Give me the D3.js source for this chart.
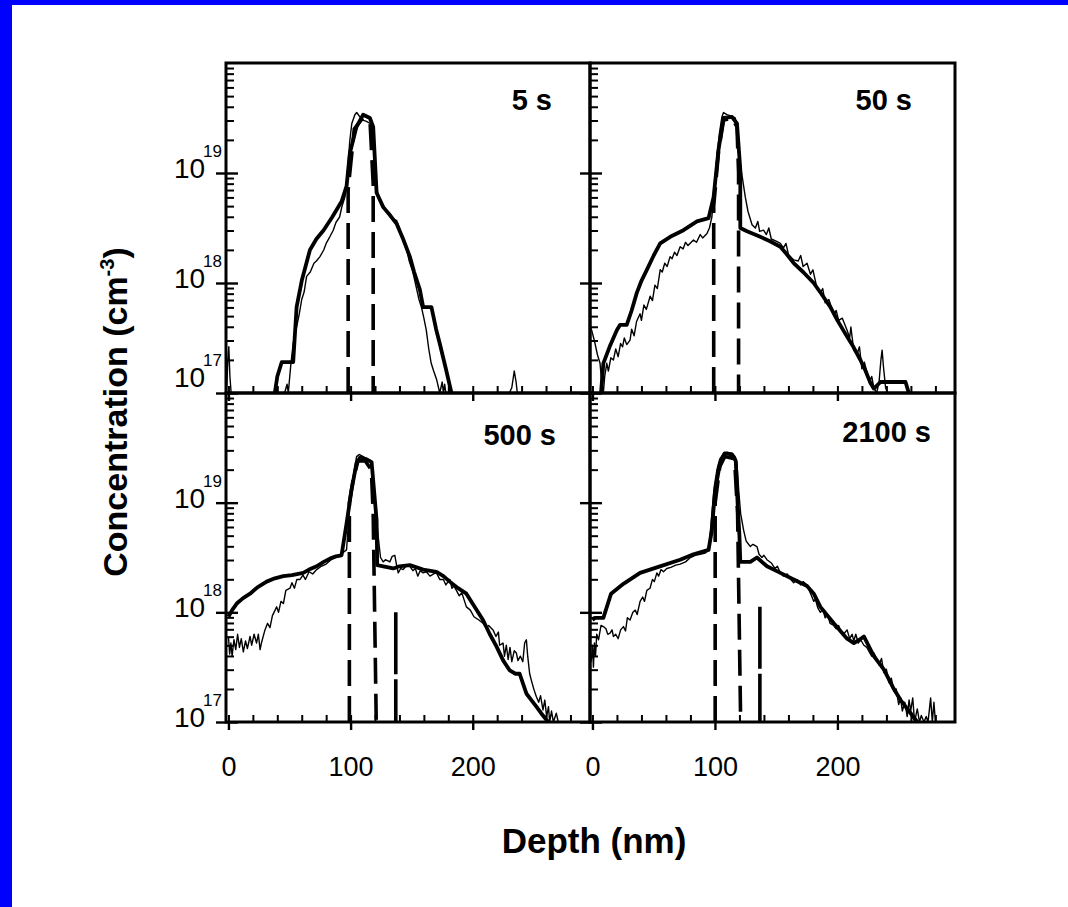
<!DOCTYPE html>
<html>
<head>
<meta charset="utf-8">
<script src="https://cdn.jsdelivr.net/npm/d3@7"></script>
<style>
  html, body { margin: 0; padding: 0; background: #fff; }
  svg { display: block; font-family: "Liberation Sans", Arial, Helvetica, sans-serif; color: #000; }
</style>
</head>
<body>
<svg id="chart" width="1068" height="907"></svg>
<script>
// ─── Data (depth in nm, concentration as log10 of cm^-3) ─────────────────────
const panelLabels = ['5 s', '50 s', '500 s', '2100 s'];
const xMinorTicks = [0, 20, 40, 60, 80, 100, 120, 140, 160, 180, 200, 220, 240, 260, 280];
const xMajorTicks = [0, 100, 200];
const yMajorExp   = [17, 18, 19];

// 5 s
const thick5 = [[38,17.0],[40,17.15],[43.6,17.28],[53,17.28],[55.8,17.78],[60,18.02],[66.7,18.3],[72,18.4],
  [77.9,18.48],[85,18.6],[92.6,18.74],[96.7,18.88],[99.4,19.18],[104.8,19.42],[110.3,19.53],[115.8,19.5],
  [118.5,19.42],[121.3,18.82],[126.7,18.69],[132,18.62],[137.6,18.54],[143,18.4],[148.5,18.24],[152,18.1],
  [156.7,17.94],[159.4,17.78],[166.2,17.78],[170,17.58],[173,17.45],[178,17.22],[182.6,17.0]];
const thin5 = [[-1.5,17],[-0.5,17.3],[0.3,17.42],[1.2,17.15],[2.2,17.0],[46,17.0],[48,17.08],[49,17.0],
  [51,17.25],[53,17.45],[55.8,17.6],[58,17.72],[60,17.85],[62,17.92],[64,18.06],[67,18.1],[70,18.18],[72,18.2],
  [74.9,18.24],[78,18.3],[80,18.36],[83,18.42],[85.8,18.48],[88,18.55],[91,18.6],[93,18.7],[95.3,18.78],
  [97,18.95],[99.4,19.3],[101,19.45],[103.5,19.53],[105,19.55],[107.6,19.51],[110,19.48],[113,19.47],
  [116,19.45],[118,19.35],[120,19.0],[121,18.88],[123,18.78],[127,18.7],[130,18.65],[133,18.62],[135,18.58],
  [137.6,18.57],[140,18.5],[143,18.4],[146,18.3],[148,18.2],[151,18.1],[154,17.95],[156,17.85],[158,17.78],
  [160,17.68],[162,17.57],[164,17.4],[166,17.27],[168,17.2],[170.5,17.12],[173,17.0],[175,17.1],[176,17.0],
  [177,17.08],[178,17.0],[230,17.0],[232,17.05],[234,17.2],[235.5,17.1],[236.5,17.0]];
const dash5 = [[98,17],[98,18.85],[103,19.4],[110,19.5],[116,19.45],[118.5,18.9],[118.5,17]];

// 50 s
const thick50 = [[7,17.0],[8.9,17.27],[14,17.42],[19.9,17.57],[22.6,17.62],[28,17.62],[32,17.75],[36.2,17.91],
  [40,18.02],[44.4,18.12],[50,18.25],[55.3,18.36],[63.5,18.42],[74.3,18.48],[85.3,18.56],[94.8,18.59],
  [98.9,18.78],[102.9,19.21],[107,19.5],[113.9,19.51],[118,19.45],[120.7,19.03],[120.7,18.5],[126.2,18.47],
  [137,18.42],[145,18.38],[153.4,18.33],[158,18.27],[164.3,18.18],[172,18.1],[180.6,18.0],[187,17.9],
  [194.3,17.78],[200,17.66],[208,17.51],[213,17.42],[218.8,17.3],[223,17.2],[227,17.09],[229.7,17.04],
  [235.2,17.1],[255.6,17.1],[258.3,17.0]];
const thin50 = [[-2,17.6],[-0.6,17.57],[1,17.5],[2.1,17.45],[4,17.35],[6.2,17.27],[7.5,17.1],[8.9,17.0],
  [10,17.15],[11.7,17.27],[13,17.2],[15,17.32],[17.1,17.3],[19,17.4],[21,17.33],[23,17.45],[24.6,17.42],
  [26,17.5],[28,17.44],[30.7,17.48],[32,17.58],[34,17.52],[36,17.65],[38.9,17.72],[40,17.66],[42,17.8],
  [44,17.76],[47.1,17.88],[49,17.84],[51,17.98],[53,17.95],[55.3,18.12],[57,18.1],[59,18.18],[61,18.15],
  [63.4,18.24],[65,18.22],[67,18.28],[69,18.25],[71.6,18.33],[74,18.31],[76,18.37],[78,18.34],[82.5,18.39],
  [85,18.37],[88,18.44],[90,18.41],[93.5,18.45],[95.5,18.5],[97.5,18.6],[99.5,18.85],[101.6,19.15],
  [103.5,19.35],[105.7,19.51],[107,19.55],[109.8,19.53],[113,19.52],[116.6,19.5],[118,19.4],[120.7,19.09],
  [122.5,18.95],[124.8,18.78],[127,18.65],[130.3,18.53],[133,18.5],[135,18.56],[136.5,18.47],[139.7,18.48],
  [142,18.44],[144,18.5],[146,18.4],[150,18.38],[153.4,18.36],[156,18.32],[158,18.36],[160,18.26],
  [164.3,18.21],[168,18.2],[170,18.25],[172,18.15],[175.2,18.18],[178,18.08],[180,18.12],[183,17.97],
  [186.1,17.91],[188,17.95],[190,17.82],[193,17.85],[197,17.72],[199,17.75],[201,17.66],[204,17.68],
  [207.9,17.57],[210,17.5],[211,17.6],[213.3,17.39],[216,17.35],[218,17.42],[220,17.22],[222,17.28],
  [224.3,17.18],[226,17.1],[228,17.15],[229.7,17.05],[232,17.0],[234,17.1],[235.5,17.3],[236.5,17.39],
  [237.5,17.25],[239.3,17.05],[241,17.0]];
const dash50 = [[99,17],[99,18.7],[103,19.2],[107,19.48],[114,19.5],[118,19.42],[119.3,19.0],[119.3,17]];

// 500 s
const thick500 = [[0,17.96],[3,18.02],[6.8,18.08],[12,18.13],[17.7,18.17],[24,18.23],[31.3,18.28],[38,18.31],
  [44.9,18.33],[52,18.34],[61.2,18.36],[66,18.39],[72.2,18.42],[78,18.46],[83.1,18.49],[88,18.51],[92.6,18.52],
  [96.7,18.81],[100.8,19.12],[104.9,19.36],[107.6,19.41],[112,19.4],[117.2,19.37],[121.3,18.84],[121.8,18.43],
  [126.7,18.42],[135,18.4],[140,18.42],[148.5,18.43],[159.4,18.39],[170.3,18.37],[176,18.33],[181.2,18.28],
  [188,18.22],[194.8,18.17],[201,18.06],[208.4,17.93],[214,17.8],[219.4,17.69],[225,17.56],[230.3,17.47],
  [235,17.44],[238.4,17.44],[243.9,17.26],[248,17.2],[252.1,17.14],[256,17.08],[260.3,17.02],[262,17.0]];
const thin500 = [[0,17.78],[1,17.62],[2,17.72],[3,17.6],[4.5,17.75],[6,17.66],[7.5,17.8],[9,17.68],
  [10.5,17.76],[12.2,17.64],[14,17.74],[15.5,17.67],[17.7,17.78],[19,17.7],[21,17.8],[23,17.72],[24.5,17.8],
  [25.9,17.66],[27,17.72],[29.9,17.84],[32,17.9],[34,17.86],[36,17.97],[39.5,18.05],[41,18.0],[43,18.1],
  [45,18.08],[47,18.2],[50.4,18.22],[52,18.27],[54,18.22],[56,18.3],[58.6,18.3],[61,18.34],[63,18.3],
  [66,18.37],[69,18.35],[72.2,18.39],[76,18.42],[80,18.44],[84,18.48],[88.5,18.51],[92,18.53],[96.7,18.57],
  [99.4,19.0],[101.5,19.2],[104.9,19.42],[107,19.44],[110.3,19.42],[113,19.4],[115.8,19.39],[118,19.3],
  [119.5,19.05],[121.2,18.84],[123,18.65],[124.5,18.5],[126.7,18.46],[128.5,18.48],[132.1,18.46],[134,18.51],
  [136.2,18.52],[137.5,18.44],[139,18.36],[141,18.4],[143,18.39],[146,18.43],[148.5,18.42],[151,18.38],
  [153,18.4],[155,18.33],[157,18.38],[159.4,18.36],[162,18.37],[165,18.33],[168,18.35],[170.3,18.36],
  [173,18.3],[176,18.3],[178,18.25],[181.2,18.3],[183,18.22],[184.5,18.24],[186.6,18.2],[189,18.15],
  [191,18.18],[194.8,18.05],[198,18.02],[201,17.96],[205,17.93],[208.4,17.9],[211,17.86],[213,17.88],
  [216.6,17.84],[219,17.78],[221,17.82],[222,17.7],[224.8,17.72],[226,17.6],[227.5,17.7],[229,17.57],
  [230.5,17.68],[232,17.55],[234,17.65],[235.7,17.63],[237,17.56],[239,17.6],[241,17.55],[242.5,17.72],
  [243.9,17.75],[245,17.6],[246.6,17.44],[248,17.38],[250,17.3],[252.1,17.23],[254,17.18],[255.5,17.24],
  [257.5,17.11],[259,17.2],[260.5,17.05],[262,17.14],[263,17.0],[264.5,17.1],[266,17.0],[268.4,17.08],[270,17.0]];
const dash500  = [[99,17],[99,19.0],[102,19.2],[106,19.38],[112,19.38],[117,19.3],[118.5,18.9],[121,17]];
const dash500b = [[137,18.0],[137,17]];

// 2100 s
const thick2100 = [[0,17.93],[2.1,17.95],[8.9,17.95],[15.2,18.17],[25.3,18.26],[38.9,18.36],[52.6,18.41],
  [71.6,18.48],[82.5,18.53],[94.8,18.57],[97.5,18.75],[100,19.1],[104,19.35],[108,19.45],[113.9,19.44],
  [117,19.38],[118.5,19.0],[120,18.7],[120.7,18.46],[128.9,18.46],[134.3,18.5],[142.5,18.42],[153.4,18.36],
  [164.3,18.3],[175.2,18.24],[180.7,18.17],[186.1,18.05],[197,17.9],[207.9,17.76],[213.4,17.72],[218,17.75],
  [221.6,17.78],[229.7,17.6],[237.9,17.48],[246.1,17.3],[251.6,17.2],[259.8,17.08],[265.2,17.0]];
const thin2100 = [[-1,17.55],[0,17.7],[0.8,17.5],[1.6,17.72],[2.5,17.6],[3.5,17.8],[5,17.75],[7,17.88],
  [8.9,17.87],[11,17.85],[12.5,17.8],[14.4,17.81],[16,17.84],[17.1,17.78],[19,17.8],[21,17.76],[23,17.84],
  [25.3,17.87],[27,17.83],[28.5,17.95],[30.7,17.93],[33,18.0],[35,18.02],[36.5,17.98],[38.9,18.1],[41,18.14],
  [42.5,18.1],[44.4,18.2],[47,18.22],[49,18.3],[50.5,18.28],[52.6,18.36],[54,18.33],[56,18.39],[58,18.37],
  [60.7,18.4],[64,18.41],[68,18.43],[71.6,18.44],[76,18.46],[80,18.5],[84,18.52],[88,18.53],[92,18.54],
  [95,18.57],[97.5,18.9],[99.5,19.15],[101.6,19.3],[104,19.4],[107,19.45],[110,19.46],[113.9,19.45],
  [116.5,19.42],[118,19.36],[119.5,19.1],[121,18.9],[123.4,18.75],[125.5,18.65],[128.9,18.6],[131,18.62],
  [134.3,18.6],[136,18.53],[138.4,18.5],[140,18.52],[142.5,18.48],[146,18.45],[149,18.4],[151,18.42],
  [153.4,18.36],[156,18.33],[159,18.35],[162,18.3],[164.3,18.27],[167,18.3],[170,18.25],[172,18.28],
  [175.2,18.25],[177,18.2],[178.5,18.16],[180.7,18.1],[182,18.12],[184,18.04],[186.1,18.0],[188,18.03],
  [190,17.95],[192,17.98],[194,17.9],[197,17.88],[199,17.85],[201,17.88],[203,17.82],[205,17.8],
  [207.9,17.84],[210,17.76],[212,17.8],[213.4,17.74],[215,17.8],[217,17.72],[219,17.75],[221.6,17.7],
  [224,17.68],[226,17.64],[228,17.6],[229.7,17.63],[232,17.58],[234,17.52],[236,17.58],[237.9,17.45],
  [240,17.48],[242,17.36],[244,17.4],[246.1,17.28],[248,17.3],[250,17.16],[251.6,17.22],[253,17.1],
  [255,17.18],[257,17.05],[258.5,17.2],[259.8,17.1],[261.5,17.22],[263,17.0],[265.2,17.12],[267,17.0],
  [268.5,17.06],[270.7,17.0],[272.5,17.05],[274,17.0],[276.1,17.22],[277.5,17.0],[278.8,17.18],[280,17.0]];
const dash2100  = [[100.2,17],[100.2,19.0],[104,19.33],[108,19.42],[116,19.4],[118.5,18.9],[121,17]];
const dash2100b = [[136.7,18.05],[136.7,17]];

// ─── Layout ──────────────────────────────────────────────────────────────────
const colX = [226, 590, 955];
const rowY = [63, 393, 722];
// label anchor: [offset from panel right, offset from panel top]
const labelAnchor = [[-38, 47], [-43, 47], [-34, 52], [-24, 49]];

const panels = [
  { label: panelLabels[0], thick: thick5,    thin: thin5,    dashed: [dash5],              marker: [] },
  { label: panelLabels[1], thick: thick50,   thin: thin50,   dashed: [dash50],             marker: [] },
  { label: panelLabels[2], thick: thick500,  thin: thin500,  dashed: [dash500],  marker: [dash500b] },
  { label: panelLabels[3], thick: thick2100, thin: thin2100, dashed: [dash2100], marker: [dash2100b] }
];

const svg = d3.select('#chart');
svg.append('rect').attr('width', 1068).attr('height', 907).attr('fill', '#fff');
// blue frame of the slide
svg.append('rect').attr('x', 0).attr('y', 0).attr('width', 1068).attr('height', 5).attr('fill', '#0000ff');
svg.append('rect').attr('x', 0).attr('y', 0).attr('width', 12).attr('height', 907).attr('fill', '#0000ff');

panels.forEach((p, i) => {
  const col = i % 2, row = Math.floor(i / 2);
  const x0 = colX[col], x1 = colX[col + 1];
  const y0 = rowY[row], y1 = rowY[row + 1];

  const x = d3.scaleLinear().domain([-2, 296]).range([x0, x1]);
  const y = d3.scaleLog().domain([1e17, 1e20]).range([y1, y0]);
  const line = d3.line().x(d => x(d[0])).y(d => y(Math.pow(10, d[1])));

  const g = svg.append('g');
  const clipId = 'clip' + i;
  g.append('clipPath').attr('id', clipId)
    .append('rect').attr('x', x0).attr('y', y0 - 2).attr('width', x1 - x0).attr('height', y1 - y0 + 4);

  const plot = g.append('g').attr('clip-path', `url(#${clipId})`);
  p.dashed.forEach(d => {
    plot.append('path').attr('d', line(d)).attr('fill', 'none')
      .attr('stroke', '#000').attr('stroke-width', 3.6).attr('stroke-dasharray', '26,10');
  });
  p.marker.forEach(d => {
    plot.append('path').attr('d', line(d)).attr('fill', 'none')
      .attr('stroke', '#000').attr('stroke-width', 3.6).attr('stroke-dasharray', '62,5');
  });
  plot.append('path').attr('d', line(p.thin)).attr('fill', 'none')
    .attr('stroke', '#000').attr('stroke-width', 1.4).attr('stroke-linejoin', 'round');
  plot.append('path').attr('d', line(p.thick)).attr('fill', 'none')
    .attr('stroke', '#000').attr('stroke-width', 3.8).attr('stroke-linejoin', 'round');

  // x ticks: minor inward, major crossing
  g.append('g').attr('transform', `translate(0,${y1})`)
    .call(d3.axisBottom(x).tickValues(xMinorTicks).tickSizeInner(-7).tickSizeOuter(0).tickFormat(''))
    .call(s => s.select('.domain').remove())
    .selectAll('line').attr('stroke-width', 2);
  const xMaj = g.append('g').attr('transform', `translate(0,${y1})`)
    .call(d3.axisBottom(x).tickValues(xMajorTicks).tickSizeInner(8).tickSizeOuter(0).tickPadding(27)
      .tickFormat(row === 1 ? d3.format('d') : () => ''))
    .call(s => s.select('.domain').remove());
  xMaj.selectAll('line').attr('stroke-width', 2.4);
  xMaj.attr('font-size', 27).attr('font-family', null);

  // y ticks: log minor inward, decades crossing
  const minors = y.ticks().filter(v => !yMajorExp.map(e => Math.pow(10, e)).includes(v) && v < 1e20);
  g.append('g').attr('transform', `translate(${x0},0)`)
    .call(d3.axisLeft(y).tickValues(minors).tickSizeInner(-8).tickSizeOuter(0).tickFormat(''))
    .call(s => s.select('.domain').remove())
    .selectAll('line').attr('stroke-width', 2);
  g.append('g').attr('transform', `translate(${x0 - 10},0)`)
    .call(d3.axisLeft(y).tickValues(yMajorExp.map(e => Math.pow(10, e))).tickSizeInner(-22).tickSizeOuter(0).tickFormat(''))
    .call(s => s.select('.domain').remove())
    .selectAll('line').attr('stroke-width', 2.4);

  // y labels 10^n on the left column
  if (col === 0) {
    yMajorExp.forEach(e => {
      const ty = y(Math.pow(10, e));
      const base = (row === 0 && e === 17) ? ty - 6 : ty + 5;
      const t = g.append('text').attr('x', x0 - 4).attr('y', base)
        .attr('text-anchor', 'end').attr('font-size', 28);
      t.append('tspan').text('10');
      t.append('tspan').attr('dx', -2).attr('dy', -21).attr('font-size', 17).text(e);
    });
  }

  // frame
  g.append('rect').attr('x', x0).attr('y', y0).attr('width', x1 - x0).attr('height', y1 - y0)
    .attr('fill', 'none').attr('stroke', '#000').attr('stroke-width', 3);

  // panel label
  g.append('text').attr('x', x1 + labelAnchor[i][0]).attr('y', y0 + labelAnchor[i][1])
    .attr('text-anchor', 'end').attr('font-size', 29).attr('font-weight', 'bold').text(p.label);
});

// axis titles
svg.append('text').attr('x', 594).attr('y', 853).attr('text-anchor', 'middle')
  .attr('font-size', 35).attr('font-weight', 'bold').text('Depth (nm)');

const yt = svg.append('text').attr('transform', 'translate(127,412) rotate(-90)')
  .attr('text-anchor', 'middle').attr('font-size', 34).attr('font-weight', 'bold');
yt.append('tspan').text('Concentration (cm');
yt.append('tspan').attr('dy', -13).attr('font-size', 20).text('-3');
yt.append('tspan').attr('dy', 13).text(')');
</script>
</body>
</html>
